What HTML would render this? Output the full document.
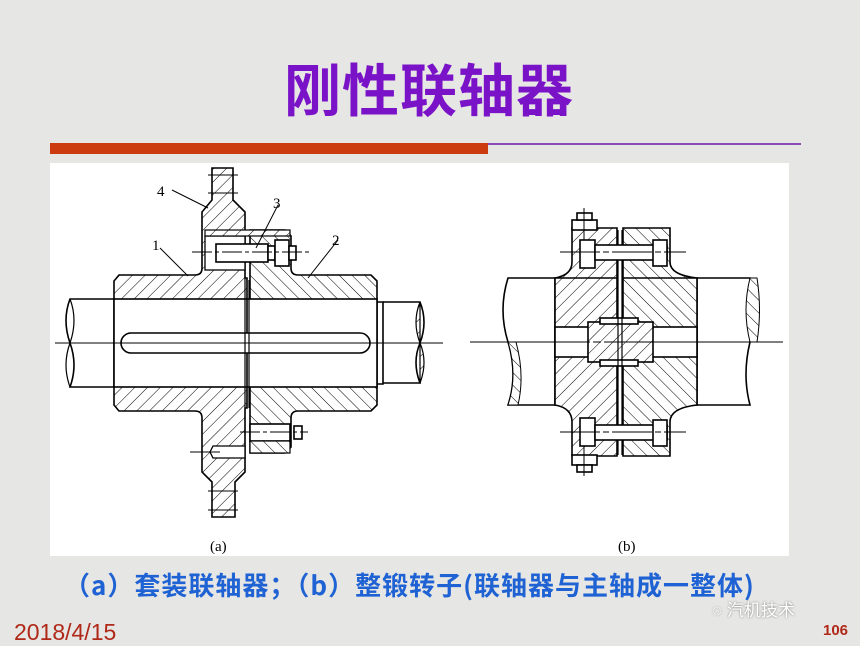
<!DOCTYPE html>
<html><head><meta charset="utf-8"><style>
html,body{margin:0;padding:0}
body{width:860px;height:645px;overflow:hidden;background:#e6e6e4;position:relative;font-family:"Liberation Sans","Noto Sans CJK SC",sans-serif}
.t{position:absolute;white-space:nowrap}
</style></head><body>
<div class="t" style="left:284px;top:46px;font-size:57px;font-weight:bold;color:#7a12c8;letter-spacing:1px;font-family:'Noto Sans CJK SC',sans-serif">刚性联轴器</div>
<div style="position:absolute;left:50px;top:143px;width:438px;height:11px;background:#cc3a10"></div>
<div style="position:absolute;left:488px;top:143px;width:313px;height:1.5px;background:#8a4ab8"></div>
<div style="position:absolute;left:50px;top:163px;width:739px;height:393px;background:#fff"></div>
<svg style="position:absolute;left:0;top:0" width="860" height="645" viewBox="0 0 860 645">
<defs>
<pattern id="hb" width="9" height="9" patternUnits="userSpaceOnUse" patternTransform="rotate(45)"><rect width="9" height="9" fill="#fff"/><line x1="0" y1="0" x2="0" y2="9" stroke="#000" stroke-width="1"/></pattern>
<pattern id="hf" width="9" height="9" patternUnits="userSpaceOnUse" patternTransform="rotate(-45)"><rect width="9" height="9" fill="#fff"/><line x1="0" y1="0" x2="0" y2="9" stroke="#000" stroke-width="1"/></pattern>
</defs>
<g stroke="#000" stroke-width="1.6" fill="none">
<path d="M119,275 L195,275 Q202,275 202,268 L202,212 L212,200 L212,168 L233,168 L233,200 L245,212 L245,278 L247,278 L247,408 L245,408 L245,472 L235,482 L235,517 L212,517 L212,482 L202,472 L202,418 Q202,411 195,411 L119,411 L114,405 L114,281 Z" fill="url(#hb)"/>
<path d="M250,230 L285,230 L291,236 L291,268 Q291,275 298,275 L371,275 L377,281 L377,405 L371,411 L298,411 Q291,411 291,418 L291,447 L285,453 L250,453 Z" fill="url(#hf)"/>
<rect x="114" y="299" width="263" height="88" fill="#fff"/>
<line x1="247" y1="299" x2="247" y2="387"/>
<path d="M377,302 L383,302 L383,384 L377,384"/>
<path d="M114,299 L70,299 Q62,320 70,343 Q78,365 70,387 L114,387"/>
<path d="M70,299 Q78,320 70,343 Q62,365 70,387" stroke-width="1.2"/>
<path d="M383,302 L420,302 Q428,322 420,343 Q412,362 420,383 L383,383"/>
<path d="M420,302 Q412,322 420,343 Q428,362 420,383 Z" fill="url(#hb)" stroke-width="1.2"/>
<rect x="121" y="333" width="249" height="20" rx="10" fill="#fff"/>
<line x1="245" y1="278" x2="245" y2="408" stroke-width="1.2"/>
<line x1="249" y1="280" x2="249" y2="408" stroke-width="1.2"/>
<rect x="205" y="236" width="40" height="34" fill="#fff" stroke-width="1.3"/>
<rect x="216" y="244" width="52" height="18" fill="#fff"/>
<rect x="268" y="246" width="7" height="14" fill="#fff"/>
<rect x="275" y="240" width="14" height="26" fill="#fff"/>
<rect x="289" y="246" width="7" height="14" fill="#fff"/>
<rect x="205" y="230" width="85" height="6" fill="url(#hb)" stroke-width="1.2"/>
<rect x="250" y="424" width="40" height="17" fill="#fff"/>
<rect x="294" y="426" width="8" height="13" fill="#fff"/>
<rect x="250" y="441" width="40" height="12" fill="url(#hf)" stroke-width="1.2"/>
<path d="M213,446 L245,446 L245,458 L213,458 L210,452 Z" fill="#fff" stroke-width="1.3"/>
<g stroke-width="1">
<line x1="208" y1="175" x2="238" y2="175"/><line x1="208" y1="193" x2="238" y2="193"/>
<line x1="208" y1="491" x2="238" y2="491"/><line x1="208" y1="510" x2="238" y2="510"/>
</g>
<g stroke-width="1">
<line x1="55" y1="343" x2="443" y2="343"/>
<line x1="192" y1="252" x2="310" y2="252" stroke-dasharray="20,3,4,3"/>
<line x1="240" y1="432" x2="308" y2="432" stroke-dasharray="20,3,4,3"/>
<line x1="190" y1="452" x2="220" y2="452"/>
<line x1="172" y1="190" x2="208" y2="208"/>
<line x1="160" y1="248" x2="188" y2="276"/>
<line x1="278" y1="205" x2="256" y2="248"/>
<line x1="338" y1="240" x2="308" y2="278"/>
</g>
<path d="M572,228 L617,228 L617,405 L555,405 L555,278 Q572,275 572,262 Z" fill="url(#hb)"/>
<path d="M623,228 L670,228 L670,262 Q670,275 697,278 L697,405 L623,405 Z" fill="url(#hf)"/>
<path d="M572,456 L617,456 L617,278 L555,278 L555,405 Q572,408 572,422 Z" fill="url(#hb)"/>
<path d="M623,456 L670,456 L670,422 Q670,408 697,405 L697,278 L623,278 Z" fill="url(#hf)"/>
<rect x="555" y="327" width="142" height="30" fill="#fff"/>
<rect x="588" y="322" width="65" height="40" fill="url(#hb)"/>
<rect x="600" y="318" width="38" height="6" fill="#fff"/>
<rect x="600" y="360" width="38" height="6" fill="#fff"/>
<line x1="618" y1="230" x2="618" y2="455" stroke-width="1.2"/>
<line x1="622" y1="230" x2="622" y2="455" stroke-width="1.2"/>
<path d="M555,278 L508,278 Q498,310 508,342 Q518,375 508,405 L555,405"/>
<path d="M508,342 Q518,375 508,405 L518,405 Q525,375 516,342 Z" fill="url(#hf)" stroke-width="1"/>
<path d="M697,278 L750,278 Q758,310 750,342 Q742,375 750,405 L697,405"/>
<path d="M750,278 Q742,310 750,342 L757,342 Q762,310 757,278 Z" fill="url(#hf)" stroke-width="1"/>
<g fill="#fff">
<rect x="580" y="240" width="15" height="28"/><rect x="595" y="245" width="72" height="15"/><rect x="653" y="240" width="14" height="26"/>
<rect x="572" y="220" width="25" height="10"/><rect x="577" y="213" width="15" height="7"/>
<rect x="580" y="418" width="15" height="28"/><rect x="595" y="425" width="72" height="15"/><rect x="653" y="420" width="14" height="26"/>
<rect x="572" y="455" width="25" height="10"/><rect x="577" y="465" width="15" height="7"/>
</g>
<g stroke-width="1">
<line x1="470" y1="342" x2="783" y2="342" stroke-dasharray="120,3,8,3,400"/>
<line x1="560" y1="252" x2="686" y2="252" stroke-dasharray="40,3,6,3"/>
<line x1="560" y1="432" x2="686" y2="432" stroke-dasharray="40,3,6,3"/>
<line x1="584" y1="208" x2="584" y2="240"/>
<line x1="584" y1="446" x2="584" y2="476"/>
</g>
</g>
<g font-family="Liberation Serif,serif" font-size="15" fill="#000">
<text x="157" y="196">4</text><text x="273" y="208">3</text><text x="152" y="250">1</text><text x="332" y="245">2</text>
<text x="210" y="551">(a)</text><text x="618" y="551">(b)</text>
</g>
</svg>
<div class="t" style="left:64px;top:566px;font-size:26px;font-weight:bold;color:#1f62d4;letter-spacing:1px;font-family:'Noto Sans CJK SC',sans-serif">（a）套装联轴器；（b）整锻转子(联轴器与主轴成一整体)</div>
<div class="t" style="left:712px;top:596px;font-size:17px;color:#fff;text-shadow:0 0 2px #777">◌ 汽机技术</div>
<div class="t" style="left:14px;top:619px;font-size:23px;color:#b02818">2018/4/15</div>
<div class="t" style="left:823px;top:622px;font-size:15px;font-weight:bold;color:#b02818">106</div>
</body></html>
